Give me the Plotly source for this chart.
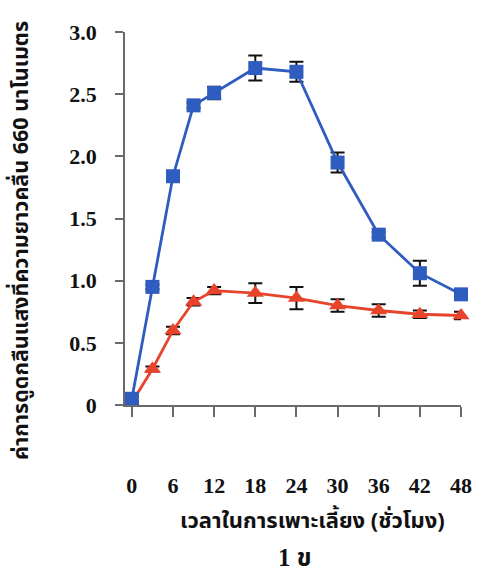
import plotly.graph_objects as go

# Culture time (hours)
hours = [0, 3, 6, 9, 12, 18, 24, 30, 36, 42, 48]

# Absorbance at 660 nm, two cultures, with standard deviations
od_blue = [0.05, 0.95, 1.84, 2.41, 2.51, 2.71, 2.68, 1.95, 1.37, 1.06, 0.89]
sd_blue = [0.02, 0.02, 0.04, 0.02, 0.05, 0.10, 0.08, 0.08, 0.02, 0.10, 0.03]

od_red = [0.02, 0.29, 0.60, 0.83, 0.92, 0.90, 0.86, 0.80, 0.76, 0.73, 0.72]
sd_red = [0.01, 0.02, 0.03, 0.03, 0.03, 0.08, 0.09, 0.05, 0.05, 0.03, 0.03]

x_ticks = [0, 6, 12, 18, 24, 30, 36, 42, 48]
y_ticks = [0, 0.5, 1.0, 1.5, 2.0, 2.5, 3.0]
y_ticktext = ["0", "0.5", "1.0", "1.5", "2.0", "2.5", "3.0"]

y_title = "ค่าการดูดกลืนแสงที่ความยาวคลื่น 660 นาโนเมตร"
x_title = "เวลาในการเพาะเลี้ยง (ชั่วโมง)"
panel_label = "1 ข"

BLUE = "#2f5cbf"
RED = "#e8442c"
AXIS = "#6a6a6a"
SERIF = "Liberation Serif, Times New Roman, serif"
THAI_FONT = "Noto Sans Thai, Tahoma, Loma, Garuda, DejaVu Sans, sans-serif"
NUM_FONT = dict(family=SERIF, size=22, color="#111", weight="bold")

W, H = 484, 577
ML, MR, MT, MB = 125, 20, 32, 172

fig = go.Figure()

fig.add_trace(go.Scatter(
    x=hours, y=od_red, mode="lines+markers",
    line=dict(color=RED, width=2.8),
    marker=dict(symbol="triangle-up", size=15, color=RED),
    error_y=dict(type="data", array=sd_red, color="#111", thickness=2, width=7),
    cliponaxis=False, showlegend=False,
))

fig.add_trace(go.Scatter(
    x=hours, y=od_blue, mode="lines+markers",
    line=dict(color=BLUE, width=2.8),
    marker=dict(symbol="square", size=14, color=BLUE),
    error_y=dict(type="data", array=sd_blue, color="#111", thickness=2, width=7),
    cliponaxis=False, showlegend=False,
))

fig.update_xaxes(
    range=[-1, 48], tickvals=x_ticks,
    showline=True, linecolor=AXIS, linewidth=1.5,
    ticks="outside", ticklen=10, tickwidth=1.5, tickcolor=AXIS,
    ticklabelstandoff=50,
    tickfont=NUM_FONT,
    showgrid=False, zeroline=False,
)
fig.update_yaxes(
    range=[0, 3], tickvals=y_ticks, ticktext=y_ticktext,
    showline=True, linecolor=AXIS, linewidth=1.5,
    ticks="outside", ticklen=8, tickwidth=1.5, tickcolor=AXIS,
    ticklabelstandoff=14,
    tickfont=NUM_FONT,
    showgrid=False, zeroline=False,
)

# axis titles and panel label, positioned in paper coordinates
pw, ph = W - ML - MR, H - MT - MB

def px_to_paper(px, py):
    return (px - ML) / pw, (H - MB - py) / ph

for txt, (px, py), angle, size, family in [
    (y_title, (21, 240), -90, 21.5, THAI_FONT),
    (x_title, (314, 521), 0, 22, THAI_FONT),
    (panel_label, (297, 557), 0, 25, SERIF + ", " + THAI_FONT),
]:
    ax, ay = px_to_paper(px, py)
    fig.add_annotation(
        text=f"<b>{txt}</b>", textangle=angle,
        x=ax, y=ay, xref="paper", yref="paper", showarrow=False,
        xanchor="center", yanchor="middle",
        font=dict(family=family, size=size, color="#111"),
    )

fig.update_layout(
    width=W, height=H,
    margin=dict(l=ML, r=MR, t=MT, b=MB),
    paper_bgcolor="white", plot_bgcolor="white",
)

fig.write_html("out.html")
